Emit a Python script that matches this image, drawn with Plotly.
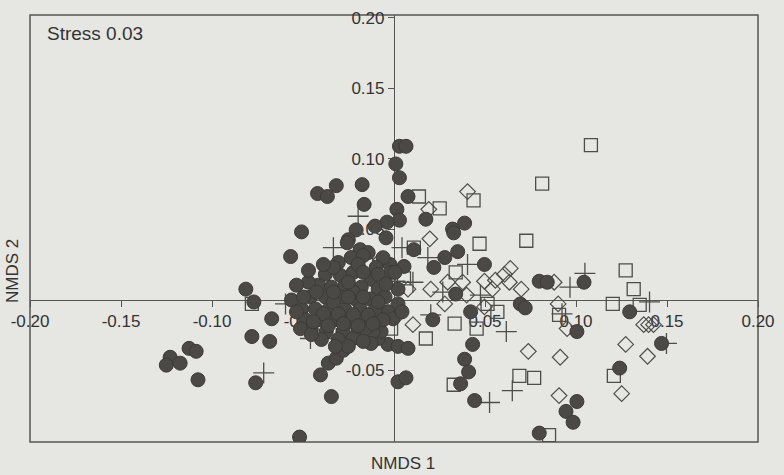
import plotly.graph_objects as go

# NMDS scores
circle_x = [0.003, 0.0066, 0.001, 0.003, 0.0077, 0.0016, 0.003, -0.0038, 0.0175, 0.0322, 0.0388,
            -0.042, -0.0366, -0.0317, -0.0175, -0.0164, -0.0508, -0.0208, -0.0104, -0.0251, -0.0568,
            -0.0814, -0.077, -0.0672, -0.0781, -0.0683, -0.1126, -0.1087, -0.123, -0.1251, -0.1175,
            -0.1077, -0.076, -0.0404, -0.0361, -0.0317, -0.0279, -0.0344, -0.0519, -0.0563, -0.0257,
            -0.0186, 0.0022, 0.0066, -0.0044, 0.0328, 0.035, 0.0279, 0.0219, 0.0497, 0.0109, 0.0055,
            -0.0022, -0.0016, 0.0339, 0.0694, 0.0721, 0.0022, 0.0421, 0.0213, 0.0432, 0.0388, 0.041,
            0.0366, 0.0443, 0.0798, 0.0842, 0.1044, 0.1005, 0.1295, 0.147, 0.124, 0.1005, 0.0945,
            0.0984, 0.0798, -0.0033, 0.0022, 0.0077, -0.0087, -0.0033, -0.0005, -0.0071,
            -0.0142, -0.0306, -0.0235, -0.0169, -0.0377, -0.0295, -0.0224, -0.0126, -0.0415, -0.0344,
            -0.0268, -0.018, -0.0087, -0.0459, -0.0377, -0.0295, -0.0213, -0.0131, -0.0049, -0.0508,
            -0.0432, -0.0361, -0.0268, -0.0186, -0.0104, -0.0486, -0.0404, -0.0322, -0.024, -0.0158,
            -0.0454, -0.0372, -0.0279, -0.0197, -0.0115, -0.0399, -0.0306, -0.0224, 0.0005, 0.0022,
            -0.0514, -0.0454, -0.0536, -0.0158, -0.0126, -0.0333, -0.047, -0.0224, -0.0333, -0.0169,
            -0.0251, -0.006, -0.0098, -0.0197, 0.0044,
            -0.047, -0.0388, -0.0426, -0.0333, -0.0251, -0.0169, -0.0087, -0.0497, -0.0388, -0.0306,
            -0.0224, -0.0142, -0.006, -0.0443, -0.0361, -0.0279, -0.0197, -0.0115, -0.0322, -0.0251,
            -0.0169, -0.0087, -0.0044, -0.0536]
circle_y = [0.109, 0.109, 0.0965, 0.0867, 0.0734, 0.0643, 0.0566, 0.0552, 0.0573, 0.0503, 0.0545,
            0.0755, 0.0734, 0.0811, 0.0818, 0.0678, 0.0483, 0.0497, 0.0524, 0.0427, 0.0308,
            0.0077, -0.0014, -0.0133, -0.0259, -0.0294, -0.0343, -0.0364, -0.0406, -0.0462, -0.0448,
            -0.0566, -0.0587, -0.0531, -0.0448, -0.0413, -0.0357, -0.0685, -0.0972, 0.0, 0.0406,
            0.0357, -0.058, -0.0552, 0.0441, 0.0476, 0.0343, 0.0301, 0.0231, 0.0252, 0.0357, 0.0238,
            0.0252, 0.0196, 0.0042, -0.0028, -0.0056, -0.0028, -0.0084, -0.014, -0.0315, -0.042, -0.051,
            -0.0594, -0.0713, 0.0133, 0.0126, 0.0126, -0.0224, -0.0084, -0.0308, -0.0483, -0.072, -0.079,
            -0.0867, -0.0944, -0.0315, -0.0329, -0.0343, -0.0273, -0.0084, -0.0133, -0.0224,
            0.0336, 0.0266, 0.0301, 0.0315, 0.0182, 0.0175, 0.0196, 0.0147, 0.0105, 0.0091,
            0.0105, 0.0091, 0.0077, 0.0021, 0.0021, 0.0021, 0.0007, 0.0007, 0.0021, -0.0063,
            -0.0063, -0.007, -0.007, -0.0063, -0.007, -0.014, -0.014, -0.014, -0.0154, -0.0154,
            -0.021, -0.0224, -0.0224, -0.0224, -0.0224, -0.028, -0.028, -0.0273, 0.0196, 0.0077,
            -0.0203, -0.0245, -0.0084, -0.0203, -0.0308, 0.0231, 0.0126, 0.0056, -0.0014, -0.0294,
            -0.0329, 0.030, 0.0231, 0.0252, -0.0084,
            0.021, 0.0252, 0.0056, 0.0056, 0.0021, 0.0021, -0.0014, 0.0021, -0.0098, -0.0098,
            -0.0105, -0.0105, -0.014, -0.0154, -0.0182, -0.0168, -0.0182, -0.0168, -0.0329, 0.0126,
            0.0196, 0.0182, 0.0112, 0.0105]

square_x = [0.0137, 0.0251, 0.0437, 0.0814, 0.1082, 0.0727, 0.047, 0.0109, 0.0339, 0.0055, 0.1273,
            0.1317, 0.1202, 0.135, 0.0907, 0.0514, 0.0568, 0.0333, 0.0454, 0.0175, -0.0016, 0.0689,
            0.077, 0.0328, 0.1208, 0.0852, -0.006, -0.0781, -0.0153, -0.0087]
square_y = [0.0734, 0.065, 0.0706, 0.0825, 0.1098, 0.042, 0.0399, 0.0371, 0.0196, 0.0154, 0.021,
            0.0077, -0.0028, -0.0035, -0.0105, -0.0028, -0.0084, -0.0168, -0.0203, -0.0273, -0.0203,
            -0.0538, -0.0552, -0.0601, -0.0538, -0.0958, -0.0084, -0.0028, 0.0252, -0.0105]

diamond_x = [0.0404, 0.0191, 0.0197, -0.0071, 0.0077, 0.0202, 0.0279, 0.0295, 0.0377, 0.0399, 0.0497,
             0.0541, 0.0557, 0.0607, 0.0639, 0.0634, 0.0699, 0.0497, 0.088, 0.0902, 0.0951, 0.0104,
             0.0738, 0.0913, 0.1273, 0.1393, 0.1372, 0.1399, 0.1426, 0.0907, 0.1251, -0.0071, 0.0022,
             -0.0104]
diamond_y = [0.0769, 0.0643, 0.0434, 0.0287, 0.0077, 0.0077, -0.0028, 0.0126, 0.0126, 0.0035, 0.0133,
             0.0077, 0.014, 0.0182, 0.0224, 0.0126, 0.0077, -0.0049, 0.0126, -0.0028, -0.0203, -0.0175,
             -0.0364, -0.0406, -0.0315, -0.0399, -0.0175, -0.0175, -0.0175, -0.0678, -0.0664, 0.0056,
             -0.0105, -0.0105]

plus_x = [0.0044, 0.0186, 0.0404, 0.0104, 0.0268, 0.0475, 0.0202, 0.0617, 0.1049, 0.0967, 0.0923,
          0.1404, 0.1497, 0.065, 0.0525, 0.0005, -0.0197, -0.0333, -0.0716, -0.0459, -0.0317, -0.0596]
plus_y = [0.0371, 0.0301, 0.0252, 0.0126, 0.0056, 0.0035, -0.0105, -0.0224, 0.0189, 0.0091, -0.0098,
          -0.0014, -0.0308, -0.0643, -0.0727, 0.0133, 0.0594, 0.0371, -0.0517, -0.0273, -0.0273, -0.0028]

x_ticks = [-0.20, -0.15, -0.10, -0.05, 0.05, 0.10, 0.15, 0.20]
y_ticks = [-0.05, 0.05, 0.10, 0.15, 0.20]
x_range = [-0.20, 0.20]
y_range = [-0.1007, 0.2021]

ink = "#4a4945"
bg = "#e6e6e3"
txt = "#333"
fam = "Liberation Sans, Arial, sans-serif"

fig = go.Figure()
fig.add_trace(go.Scatter(x=square_x, y=square_y, mode="markers",
                         marker=dict(symbol="square-open", size=13, color="#4d4d4a", line=dict(width=1.3))))
fig.add_trace(go.Scatter(x=diamond_x, y=diamond_y, mode="markers",
                         marker=dict(symbol="diamond-open", size=12, color="#4d4d4a", line=dict(width=1.2))))
fig.add_trace(go.Scatter(x=plus_x, y=plus_y, mode="markers",
                         marker=dict(symbol="cross-thin-open", size=15, color="#4d4d4a", line=dict(width=1.3, color="#4d4d4a"))))
fig.add_trace(go.Scatter(x=circle_x, y=circle_y, mode="markers",
                         marker=dict(symbol="circle", size=14, color=ink, line=dict(width=1, color="#3c3b38"))))

y0_frac = (0 - y_range[0]) / (y_range[1] - y_range[0])
x0_frac = (0 - x_range[0]) / (x_range[1] - x_range[0])

font = dict(family=fam, size=17, color=txt)

fig.update_layout(
    width=784, height=475,
    margin=dict(l=30, r=21, t=9, b=33),
    paper_bgcolor=bg, plot_bgcolor=bg,
    showlegend=False,
    font=font,
    xaxis=dict(range=x_range, tickvals=x_ticks, ticktext=[f"{v:.2f}" for v in x_ticks],
               showgrid=False, zeroline=False,
               showline=True, linecolor="#555", linewidth=1.2, ticks="outside", ticklen=6,
               tickcolor="#555", anchor="free", position=y0_frac, layer="below traces",
               tickfont=font),
    yaxis=dict(range=y_range, tickvals=y_ticks, ticktext=[f"{v:.2f}" for v in y_ticks],
               showgrid=False, zeroline=False,
               showline=True, linecolor="#555", linewidth=1.2, ticks="outside", ticklen=6,
               tickcolor="#555", anchor="free", position=x0_frac, layer="below traces",
               tickfont=font),
    shapes=[dict(type="rect", xref="paper", yref="paper", x0=0, x1=1, y0=0, y1=1,
                 line=dict(color="#555", width=1.5), layer="below")],
    annotations=[
        dict(text="Stress 0.03", xref="paper", yref="paper", x=0.02, y=0.985, xanchor="left",
             yanchor="top", showarrow=False, font=dict(family=fam, size=19, color=txt)),
        dict(text="NMDS 1", xref="paper", yref="paper", x=0.512, y=-0.050, xanchor="center",
             yanchor="middle", showarrow=False, font=dict(family=fam, size=17, color=txt)),
        dict(text="NMDS 2", xref="paper", yref="paper", x=-0.025, y=0.40, xanchor="center",
             yanchor="middle", textangle=-90, showarrow=False, font=dict(family=fam, size=17, color=txt)),
    ],
)

fig.write_html("out.html")
